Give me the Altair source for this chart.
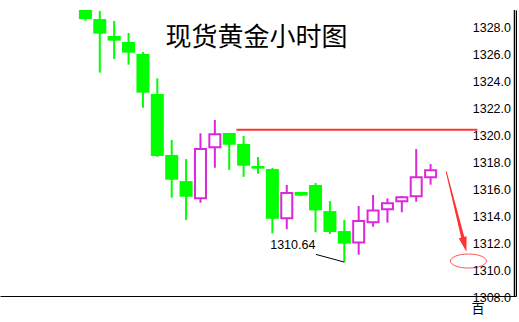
import altair as alt
import pandas as pd

# ---- data ----
opens  = [1329.31, 1328.64, 1327.39, 1326.94, 1326.05, 1323.09, 1318.57, 1316.64, 1315.36, 1319.14,
          1320.20, 1319.39, 1317.76, 1317.53, 1313.88, 1315.83, 1316.35, 1314.42, 1312.94, 1312.10,
          1313.59, 1314.55, 1315.14, 1315.51, 1316.92]
highs  = [1329.31, 1329.24, 1328.50, 1327.61, 1326.20, 1324.25, 1319.68, 1318.27, 1320.18, 1321.16,
          1320.20, 1319.98, 1318.42, 1317.61, 1316.35, 1315.83, 1316.50, 1315.16, 1313.76, 1314.79,
          1315.61, 1315.36, 1315.53, 1319.01, 1317.90]
lows   = [1328.52, 1324.67, 1325.68, 1325.26, 1322.07, 1318.44, 1315.41, 1313.76, 1315.04, 1317.63,
          1317.46, 1316.96, 1317.19, 1312.76, 1313.08, 1315.56, 1312.85, 1312.72, 1310.64, 1311.19,
          1313.26, 1313.56, 1314.33, 1315.11, 1316.37]
closes = [1328.64, 1327.56, 1327.04, 1326.15, 1323.19, 1318.50, 1316.74, 1315.48, 1319.01, 1320.10,
          1319.33, 1317.78, 1317.56, 1313.85, 1315.76, 1315.56, 1314.47, 1312.87, 1312.01, 1313.68,
          1314.47, 1314.99, 1315.44, 1316.92, 1317.44]

tick_values = [1308, 1310, 1312, 1314, 1316, 1318, 1320, 1322, 1324, 1326, 1328]
title_text = "现货黄金小时图"
low_label = "1310.64"
corner_text = "百"

# resistance line (index units / price)
level_price = [1320.44]
level_from = [10.5]
level_to = [27.25]

# arrow (index, price) and marker
arrow_idx = [25.09, 26.23]
arrow_price = [1317.33, 1312.50]
arrow_width = [1.0, 3.2]
arrow_tip_idx = [26.49]
arrow_tip_price = [1311.41]
ellipse_idx = [26.63]
ellipse_price = [1310.72]

# low annotation
leader_idx = [16.03, 18.0]
leader_price = [1311.21, 1310.64]
label_idx = [14.42]
label_price = [1311.90]

GREEN = "#00FF00"
MAGENTA = "#DA28DA"
RED = "#FF3333"

df = pd.DataFrame({"i": list(range(len(opens))), "open": opens, "high": highs,
                   "low": lows, "close": closes})
df["dir"] = ["up" if c >= o else "down" for o, c in zip(opens, closes)]

xs = alt.Scale(domain=[-5.59, 29.59], nice=False, zero=False)
ys = alt.Scale(domain=[1308.13, 1329.31], nice=False, zero=False)
xax = alt.Axis(labels=False, ticks=False, grid=False, title=None, domainColor="black", domainWidth=1)
yax = alt.Axis(orient="right", labels=False, ticks=False, grid=False, title=None,
               domainColor="black", domainWidth=1)


def X(f):
    return alt.X(f, type="quantitative", scale=xs, axis=xax)


def Y(f):
    return alt.Y(f, type="quantitative", scale=ys, axis=yax)


base = alt.Chart(df)
color = alt.Color("dir:N", scale=alt.Scale(domain=["up", "down"], range=[MAGENTA, GREEN]), legend=None)

wicks = base.mark_rule(strokeWidth=2, clip=True).encode(
    x=X("i"), y=Y("low"), y2="high", color=color)

down_bodies = base.transform_filter(alt.datum.dir == "down").mark_bar(
    size=13, color=GREEN, clip=True).encode(x=X("i"), y=Y("open"), y2="close")

up_bodies = base.transform_filter(alt.datum.dir == "up").mark_bar(
    size=11, fill="white", stroke=MAGENTA, strokeWidth=2, clip=True).encode(
    x=X("i"), y=Y("open"), y2="close")

level_df = pd.DataFrame({"x": level_from, "x2": level_to, "y": level_price})
level = alt.Chart(level_df).mark_rule(color=RED, strokeWidth=2).encode(
    x=X("x"), x2="x2", y=Y("y"))

arrow_df = pd.DataFrame({"x": arrow_idx, "y": arrow_price, "w": arrow_width, "o": [0, 1]})
arrow = alt.Chart(arrow_df).mark_trail(color=RED).encode(
    x=X("x"), y=Y("y"), size=alt.Size("w:Q", scale=None, legend=None), order="o:Q")

head_df = pd.DataFrame({"x": arrow_tip_idx, "y": arrow_tip_price})
head = alt.Chart(head_df).mark_point(
    shape="M 0 0 L -0.27 -1 L 0.27 -1 Z", size=900, filled=True, color=RED,
    opacity=1, angle=345.5).encode(x=X("x"), y=Y("y"))

ell_df = pd.DataFrame({"x": ellipse_idx, "y": ellipse_price})
ellipse = alt.Chart(ell_df).mark_point(
    shape="M -1 0 C -1 -0.215 -0.552 -0.39 0 -0.39 C 0.552 -0.39 1 -0.215 1 0 "
          "C 1 0.215 0.552 0.39 0 0.39 C -0.552 0.39 -1 0.215 -1 0 Z",
    size=1296, filled=False, stroke="#FF5555", strokeWidth=1, opacity=1).encode(
    x=X("x"), y=Y("y"))

leader_df = pd.DataFrame({"x": leader_idx, "y": leader_price})
leader = alt.Chart(leader_df).mark_line(color="black", strokeWidth=1).encode(x=X("x"), y=Y("y"))

lab_df = pd.DataFrame({"x": label_idx, "y": label_price, "t": [low_label]})
lab = alt.Chart(lab_df).mark_text(font="Liberation Sans", fontSize=12.5, color="black",
                                  align="center", baseline="middle").encode(
    x=X("x"), y=Y("y"), text="t:N")

ticks_df = pd.DataFrame({"v": tick_values, "t": [f"{v:.1f}" for v in tick_values]})
tick_labels = alt.Chart(ticks_df).mark_text(font="Liberation Sans", fontSize=12.5, color="black",
                                            align="right", baseline="middle").encode(
    x=alt.value(511), y=Y("v"), text="t:N")

# right-hand border of the price panel
border = alt.Chart(pd.DataFrame({"t": [0]})).mark_rule(color="black", strokeWidth=1.5).encode(
    x=alt.value(514.5), y=alt.value(0), y2=alt.value(286))

title = alt.Chart(pd.DataFrame({"t": [title_text]})).mark_text(
    font="Noto Sans CJK SC", fontSize=26, color="black", align="center", baseline="middle").encode(
    x=alt.value(256.5), y=alt.value(27.5), text="t:N")

corner = alt.Chart(pd.DataFrame({"t": [corner_text]})).mark_text(
    font="Noto Sans CJK SC", fontSize=13, color="black", align="center", baseline="middle").encode(
    x=alt.value(478), y=alt.value(299), text="t:N")

chart = alt.layer(
    wicks, down_bodies, up_bodies, level, arrow, head, ellipse, leader, lab, tick_labels,
    border, title, corner
).properties(
    width=516, height=286,
    padding={"left": 0, "top": 10, "right": 3, "bottom": 26},
    autosize=alt.AutoSizeParams(type="none"),
    background="white",
).configure_view(stroke=None)

chart.save("out.html", embed_options={"renderer": "svg", "actions": False})
